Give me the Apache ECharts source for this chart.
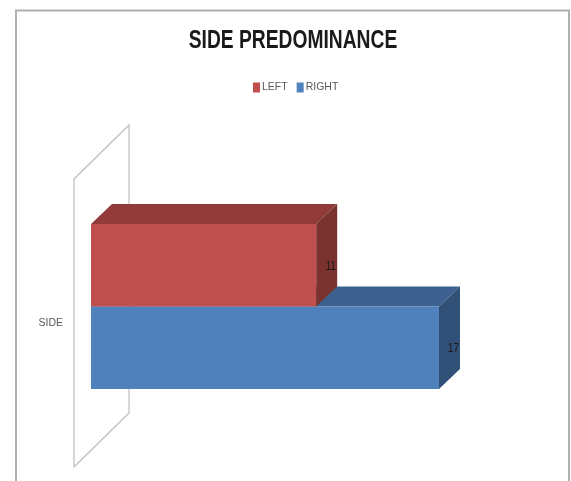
<!DOCTYPE html>
<html>
<head>
<meta charset="utf-8">
<style>html,body{margin:0;padding:0;background:#fff}#chart{width:571px;height:481px}</style>
<script src="https://cdn.jsdelivr.net/npm/echarts@6/dist/echarts.min.js"></script>
</head>
<body>
<div id="chart"></div>
<script>
// Side predominance: one category, two horizontal pseudo-3D bars.
const titleText = 'SIDE PREDOMINANCE';
const categories = ['SIDE'];
const seriesNames = ['LEFT', 'RIGHT'];
const leftValues = [11];
const rightValues = [17];

const FONT = '"Liberation Sans", sans-serif';
const COLORS = {
  LEFT: { front: '#c0504d', top: '#933b38', side: '#7a322f' },
  RIGHT: { front: '#4f81bd', top: '#3d618e', side: '#315078' }
};
const DEPTH_X = 21, DEPTH_Y = 20;   // receding offset of each box
const WALL_X = 55, WALL_Y = 54;     // receding offset of the back wall
const BAR_SHIFT_X = 17;             // bar base sits in front of the wall's front edge
const BAR_SHIFT_Y = -16.5;
const BAR_RATIO = 0.2865;

// Thin slanted panel standing behind the bars at the zero line.
function renderWall(params, api) {
  const c = params.coordSys;
  const x0 = c.x, top = c.y, bot = c.y + c.height;
  return {
    type: 'polygon',
    shape: { points: [[x0, top], [x0 + WALL_X, top - WALL_Y], [x0 + WALL_X, bot - WALL_Y], [x0, bot]] },
    style: { fill: '#fff', stroke: '#bdbdbd', lineWidth: 1.2 },
    silent: true
  };
}

// One extruded bar: front face plus top and right faces, stacked by series order.
function makeBox(name, index) {
  return function (params, api) {
    const end = api.coord([api.value(0), api.value(1)]);
    const start = api.coord([0, api.value(1)]);
    const h = api.size([0, 1])[1] * BAR_RATIO;
    const x0 = start[0] + BAR_SHIFT_X;
    const x1 = end[0] + BAR_SHIFT_X;
    const y0 = end[1] + BAR_SHIFT_Y - h + index * h;
    const y1 = y0 + h;
    const col = COLORS[name];
    const dx = DEPTH_X, dy = DEPTH_Y;
    return {
      type: 'group',
      children: [
        { type: 'polygon', shape: { points: [[x0, y0], [x0 + dx, y0 - dy], [x1 + dx, y0 - dy], [x1, y0]] }, style: { fill: col.top } },
        { type: 'polygon', shape: { points: [[x1, y0], [x1 + dx, y0 - dy], [x1 + dx, y1 - dy], [x1, y1]] }, style: { fill: col.side } },
        { type: 'rect', shape: { x: x0, y: y0, width: x1 - x0, height: h }, style: { fill: col.front } },
        {
          type: 'text',
          x: x1 + dx / 2 + 4, y: (y0 + y1) / 2 + 1,
          scaleX: 0.85,
          style: {
            text: String(api.value(0)), fill: '#1a1a1a',
            font: '12px ' + FONT, align: 'center', verticalAlign: 'middle'
          }
        }
      ]
    };
  };
}

const chart = echarts.init(document.getElementById('chart'), null, { renderer: 'canvas' });
chart.setOption({
  animation: false,
  backgroundColor: '#ffffff',
  legend: {
    data: seriesNames,
    left: 248, top: 77,
    itemWidth: 7, itemHeight: 10, itemGap: 9,
    icon: 'rect',
    textStyle: { fontFamily: FONT, fontSize: 10.5, color: '#595959', padding: [0, 0, 0, -3] }
  },
  grid: { left: 74, top: 179, width: 409.4, height: 288 },
  xAxis: { type: 'value', min: 0, max: 20, show: false },
  yAxis: {
    type: 'category',
    data: categories,
    axisLine: { show: false },
    axisTick: { show: false },
    axisLabel: { fontFamily: FONT, fontSize: 10.5, color: '#595959', margin: 11, padding: [5, 0, 0, 0] }
  },
  graphic: [
    {
      type: 'polyline',
      silent: true,
      z: -1,
      shape: { points: [[16, 481], [16, 10.5], [569, 10.5], [569, 481]] },
      style: { stroke: '#b0b0b0', lineWidth: 2, fill: null }
    },
    {
      // Condensed heading: the installed faces are wider, so it is squeezed horizontally.
      type: 'text',
      x: 293, y: 41,
      scaleX: 0.74,
      silent: true,
      style: {
        text: titleText, fill: '#1a1a1a',
        font: 'bold 26px ' + FONT, align: 'center', verticalAlign: 'middle'
      }
    }
  ],
  series: [
    {
      type: 'custom', name: '_wall', z: 1, silent: true,
      coordinateSystem: 'cartesian2d',
      renderItem: renderWall,
      data: [[0, 0]],
      encode: { x: 0, y: 1 }
    },
    {
      type: 'custom', name: 'RIGHT', z: 2,
      coordinateSystem: 'cartesian2d',
      itemStyle: { color: COLORS.RIGHT.front },
      renderItem: makeBox('RIGHT', 1),
      data: rightValues.map((v, i) => [v, i]),
      encode: { x: 0, y: 1 }
    },
    {
      type: 'custom', name: 'LEFT', z: 3,
      coordinateSystem: 'cartesian2d',
      itemStyle: { color: COLORS.LEFT.front },
      renderItem: makeBox('LEFT', 0),
      data: leftValues.map((v, i) => [v, i]),
      encode: { x: 0, y: 1 }
    }
  ]
});
</script>
</body>
</html>
